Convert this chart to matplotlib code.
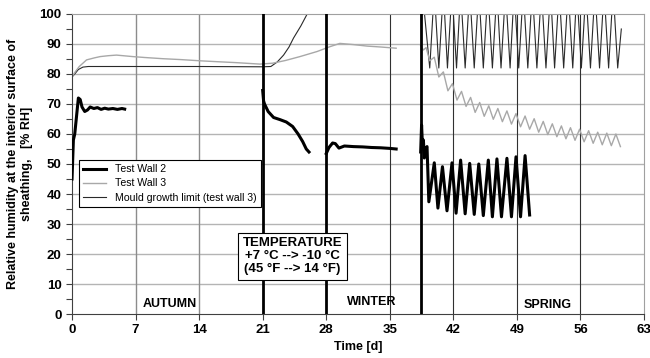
import numpy as np
import matplotlib
matplotlib.use('Agg')
import matplotlib.pyplot as plt

plt.rcParams['font.family'] = ['Liberation Sans', 'DejaVu Sans']

# Test Wall 2 (thick black), four measurement periods
w2_t1 = [0.0, 0.15, 0.3, 0.5, 0.7, 0.9, 1.1, 1.4, 1.7, 2.0, 2.4, 2.8, 3.2, 3.6, 4.0, 4.5, 5.0, 5.5, 5.8]
w2_v1 = [45, 58, 60, 66, 72, 71.5, 69, 67.5, 68, 69, 68.5, 68.8, 68.2, 68.6, 68.3, 68.5, 68.2, 68.5, 68.3]
w2_t2 = [21.0, 21.1, 21.2, 21.6, 22.2, 22.9, 23.6, 24.3, 24.9, 25.4, 25.8, 26.1]
w2_v2 = [74.5, 71, 70, 67.5, 65.5, 64.8, 64, 62.5, 60, 57.5, 55, 54]
w2_t3 = [28.0, 28.3, 28.7, 29.0, 29.4, 30.0, 31, 32, 33, 34, 35, 35.7]
w2_v3 = [53.5, 55.5, 57, 56.8, 55.3, 56, 55.8, 55.7, 55.5, 55.4, 55.2, 55.0]
w2_t4 = [38.4, 38.5, 38.6, 38.7, 38.8, 38.9, 39.1, 39.3, 39.9, 40.3, 40.8, 41.3, 41.85,
         42.3, 42.8, 43.3, 43.8, 44.3, 44.8, 45.3, 45.85, 46.3, 46.8, 47.3, 47.9,
         48.4, 48.9, 49.4, 49.9, 50.4]
w2_v4 = [54, 63, 56, 58, 52, 55, 55.8, 37.4, 50.4, 35.3, 49.1, 34.4, 50.4,
         33.6, 51.3, 33.4, 50.2, 33.2, 50, 32.8, 51.3, 32.4, 51.7, 32.4, 51.9,
         32.4, 52.4, 32.4, 52.8, 33]

# Test Wall 3 (light grey)
w3_t1 = [0, 0.3, 0.5, 0.8, 1.6, 2.5, 3.1, 4.0, 4.9, 6.7, 8, 10, 12, 14.1, 16, 18, 20.7,
         22.1, 23.5, 25.1, 27, 28.4, 29.5, 31, 32.5, 34, 35.7]
w3_v1 = [79, 80.5, 81.3, 82.5, 84.7, 85.4, 85.8, 86.1, 86.3, 85.8, 85.5, 85.1, 84.8, 84.4,
         84.1, 83.8, 83.3, 83.6, 84.5, 85.8, 87.5, 89.1, 90.2, 89.8, 89.3, 89.0, 88.6]
w3_t2 = [38.4, 38.7, 39.0, 39.4, 39.9, 40.4, 40.9, 41.4, 41.9, 42.4, 42.9, 43.4, 43.9,
         44.4, 44.9, 45.4, 45.9, 46.4, 46.9, 47.4, 47.9, 48.4, 48.9, 49.4, 49.9, 50.4,
         50.9, 51.4, 51.9, 52.4, 52.9, 53.4, 53.9, 54.4, 54.9, 55.4, 55.9, 56.4, 56.9,
         57.4, 57.9, 58.4, 58.9, 59.4, 59.9, 60.4]
w3_v2 = [89.5, 88.0, 88.8, 84.4, 85.6, 79.0, 80.7, 74.4, 76.8, 71.3, 74.2, 69.2, 72.2,
         67.2, 70.5, 65.9, 69.4, 64.9, 68.5, 64.1, 67.7, 63.3, 66.8, 62.4, 66.0, 61.6,
         65.1, 60.6, 64.2, 59.8, 63.4, 59.1, 62.7, 58.4, 62.1, 57.9, 61.6, 57.4, 61.1,
         56.9, 60.6, 56.4, 60.3, 56.1, 60.0, 55.8]

# Mould growth limit (test wall 3), thin dark
ml_t1 = [0, 0.3, 0.7, 1.2, 1.8, 3, 7, 14, 21, 21.9, 22.6, 23.3, 23.9, 24.4, 25.2, 25.9, 26.3]
ml_v1 = [79, 80, 81.5, 82.3, 82.5, 82.5, 82.5, 82.5, 82.4, 82.5, 84, 86.3, 89, 92, 96, 100, 102]
ml_t2 = [38.6, 39.4, 39.9, 40.4, 40.9, 41.35, 41.85, 42.35, 42.8, 43.3, 43.8, 44.3, 44.8,
         45.3, 45.8, 46.3, 46.8, 47.25, 47.75, 48.25, 48.7, 49.2, 49.7, 50.2, 50.7, 51.2,
         51.7, 52.2, 52.7, 53.15, 53.65, 54.15, 54.65, 55.15, 55.6, 56.1, 56.6, 57.1,
         57.6, 58.1, 58.6, 59.1, 59.6, 60.1, 60.5]
ml_v2 = [107, 82, 108, 82, 108, 82, 108, 82, 108, 82, 108, 82, 108,
         82, 108, 82, 108, 82, 108, 82, 108, 82, 108, 82, 108, 82,
         108, 82, 108, 82, 108, 82, 108, 82, 108, 82, 108, 82,
         108, 82, 108, 82, 108, 82, 95]

x_ticks = [0, 7, 14, 21, 28, 35, 42, 49, 56, 63]
phase_lines = [21, 28, 38.4]
seasons = ['AUTUMN', 'WINTER', 'SPRING']
season_x = [10.8, 33.0, 52.4]
season_y = [1.2, 1.9, 1.1]

fig = plt.figure(figsize=(6.5, 3.58), dpi=100)
ax = fig.add_axes([0.1108, 0.1229, 0.88, 0.838])

# grid
for y in range(10, 100, 10):
    ax.axhline(y, color='#b4b4b4', lw=1.0, zorder=0)
for x in [7, 14]:
    ax.axvline(x, color='#8c8c8c', lw=1.0, zorder=0)
for x in [35, 42, 49, 56]:
    ax.axvline(x, color='#303030', lw=0.8, zorder=0)
for x in phase_lines:
    ax.axvline(x, color='black', lw=2.0, zorder=4)

# data
ax.plot(ml_t1, ml_v1, color='#2a2a2a', lw=0.8, label='Mould growth limit (test wall 3)', zorder=2)
ax.plot(ml_t2, ml_v2, color='#2a2a2a', lw=0.8, zorder=2)
ax.plot(w3_t1, w3_v1, color='#a8a8a8', lw=1.0, label='Test Wall 3', zorder=2)
ax.plot(w3_t2, w3_v2, color='#a8a8a8', lw=1.0, zorder=2)
ax.plot(w2_t1, w2_v1, color='black', lw=2.2, label='Test Wall 2', zorder=3)
ax.plot(w2_t2, w2_v2, color='black', lw=2.2, zorder=3)
ax.plot(w2_t3, w2_v3, color='black', lw=2.2, zorder=3)
ax.plot(w2_t4, w2_v4, color='black', lw=2.2, zorder=3)

ax.set_xlim(0, 63)
ax.set_ylim(0, 100)
ax.set_xticks(x_ticks)
ax.set_yticks(range(0, 101, 10))
ax.set_yticks(range(5, 100, 10), minor=True)
ax.tick_params(axis='both', which='both', direction='out', length=4, width=0.8, color='#404040')
ax.tick_params(axis='both', labelsize=9.5)
for lab in ax.get_xticklabels() + ax.get_yticklabels():
    lab.set_fontweight('bold')

for side in ['top', 'right']:
    ax.spines[side].set_color('#a0a0a0')
for side in ['left', 'bottom']:
    ax.spines[side].set_color('#404040')

ax.set_xlabel('Time [d]', fontsize=9, fontweight='bold', labelpad=3)
ax.set_ylabel('Relative humidity at the interior surface of\nsheathing,   [% RH]',
              fontsize=9, fontweight='bold', labelpad=5)

handles, labels = ax.get_legend_handles_labels()
order = [2, 1, 0]
leg = ax.legend([handles[i] for i in order], [labels[i] for i in order],
                loc='lower left', bbox_to_anchor=(0.012, 0.357), fontsize=7.6,
                fancybox=False, framealpha=1, edgecolor='black', borderaxespad=0,
                handlelength=2.2, labelspacing=0.4)
leg.get_frame().set_linewidth(0.8)

for name, x, y in zip(seasons, season_x, season_y):
    ax.text(x, y, name, ha='center', va='bottom', fontsize=9, fontweight='bold')

ax.text(24.28, 19.3, 'TEMPERATURE\n+7 \u00b0C --> -10 \u00b0C\n(45 \u00b0F --> 14 \u00b0F)',
        ha='center', va='center', fontsize=9.5, fontweight='bold', linespacing=1.1,
        zorder=6, bbox=dict(boxstyle='square,pad=0.35', facecolor='white', edgecolor='black', lw=0.8))

fig.savefig('out.png', dpi=100, facecolor='white')
